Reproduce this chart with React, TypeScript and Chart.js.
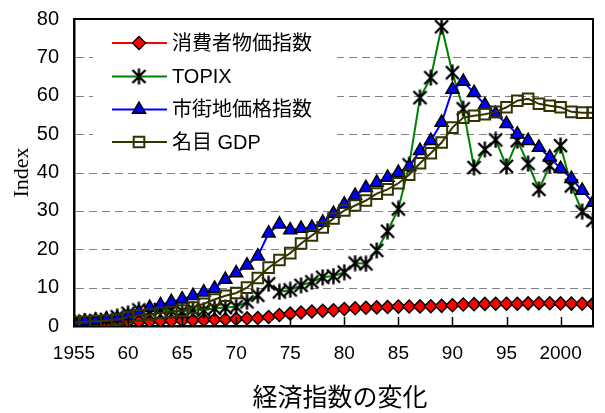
import React, { useEffect, useRef } from 'react';
import { Chart, registerables } from 'chart.js';
import { drawPoint } from 'chart.js/helpers';

Chart.register(...registerables);

const years = [
  1955, 1956, 1957, 1958, 1959, 1960, 1961, 1962, 1963, 1964,
  1965, 1966, 1967, 1968, 1969, 1970, 1971, 1972, 1973, 1974,
  1975, 1976, 1977, 1978, 1979, 1980, 1981, 1982, 1983, 1984,
  1985, 1986, 1987, 1988, 1989, 1990, 1991, 1992, 1993, 1994,
  1995, 1996, 1997, 1998, 1999, 2000, 2001, 2002, 2003,
];
const xTickYears = [1955, 1960, 1965, 1970, 1975, 1980, 1985, 1990, 1995, 2000];
const xTickLabels = ['1955', '60', '65', '70', '75', '80', '85', '90', '95', '2000'];
const yMin = 0;
const yMax = 80;
const yStep = 10;
const yGridValues = [10, 20, 30, 40, 50, 60, 70];

const seriesNames = ['消費者物価指数', 'TOPIX', '市街地価格指数', '名目 GDP'];
const xTitle = '経済指数の変化';
const yTitle = 'Index';

const cpi = [
  1.0, 1.0, 1.03, 1.03, 1.04, 1.08, 1.14, 1.22, 1.31, 1.36,
  1.45, 1.52, 1.58, 1.67, 1.75, 1.88, 1.99, 2.08, 2.33, 2.87,
  3.21, 3.51, 3.79, 3.95, 4.1, 4.42, 4.63, 4.76, 4.85, 4.96,
  5.06, 5.09, 5.1, 5.14, 5.26, 5.42, 5.6, 5.69, 5.76, 5.8,
  5.79, 5.8, 5.9, 5.94, 5.92, 5.88, 5.84, 5.79, 5.77,
];
const topix = [
  1.0, 1.3, 1.4, 1.7, 2.4, 3.3, 4.2, 3.9, 4.3, 4.0,
  3.8, 4.3, 4.1, 4.6, 4.8, 5.0, 6.3, 8.0, 11.0, 8.9,
  9.4, 10.6, 11.5, 12.7, 13.0, 14.0, 16.4, 16.2, 19.7, 24.7,
  30.5, 42.0, 59.5, 64.7, 78.0, 66.0, 56.6, 41.3, 46.0, 48.5,
  41.6, 48.3, 42.3, 35.6, 41.8, 47.0, 36.5, 29.8, 27.5,
];
const land = [
  1.0, 1.2, 1.5, 1.8, 2.1, 2.6, 3.6, 4.8, 5.5, 6.3,
  7.0, 7.9, 8.8, 9.8, 12.1, 13.8, 15.8, 18.2, 24.2, 26.5,
  25.0, 25.4, 25.7, 27.0, 29.3, 31.7, 34.0, 36.0, 37.4, 38.7,
  40.0, 41.5, 45.7, 48.3, 53.0, 61.6, 63.7, 60.8, 57.6, 55.3,
  52.7, 50.0, 48.3, 46.5, 44.0, 41.0, 38.4, 35.3, 32.2,
];
const gdp = [
  1.0, 1.1, 1.3, 1.4, 1.7, 2.3, 2.8, 3.0, 3.4, 3.7,
  4.0, 4.8, 5.8, 6.9, 7.9, 8.6, 10.0, 12.5, 15.2, 17.2,
  19.0, 21.5, 23.6, 25.7, 28.0, 30.1, 31.4, 32.7, 34.5, 35.6,
  37.2, 39.4, 42.4, 45.0, 47.8, 51.7, 54.3, 54.8, 55.2, 55.8,
  57.0, 58.7, 59.2, 57.9, 57.4, 57.0, 55.8, 55.6, 55.6,
];

const FONT = '"Liberation Sans", Arial, "Noto Sans CJK JP", sans-serif';

function makeAsterisk(): HTMLCanvasElement {
  const c = document.createElement('canvas');
  c.width = 17;
  c.height = 17;
  const g = c.getContext('2d')!;
  g.strokeStyle = '#000';
  g.lineWidth = 2.4;
  g.lineCap = 'butt';
  g.beginPath();
  g.moveTo(2, 2);
  g.lineTo(15, 15);
  g.moveTo(15, 2);
  g.lineTo(2, 15);
  g.moveTo(8.5, 0.5);
  g.lineTo(8.5, 16.5);
  g.stroke();
  return c;
}

export default function App() {
  const ref = useRef<HTMLCanvasElement | null>(null);

  useEffect(() => {
    document.body.style.margin = '0';
    const canvas = ref.current;
    if (!canvas) return;
    const asterisk = makeAsterisk();

    const styles = [
      { line: '#FF0000', pointStyle: 'rectRot', radius: 6.5, fill: '#FF0000', border: '#000000', bw: 1.5 },
      { line: '#008000', pointStyle: asterisk, radius: 8, fill: '#000000', border: '#000000', bw: 1 },
      { line: '#0000FF', pointStyle: 'triangle', radius: 7.5, fill: '#0000FF', border: '#000000', bw: 1.5 },
      { line: '#333300', pointStyle: 'rect', radius: 7.5, fill: 'rgba(0,0,0,0)', border: '#333300', bw: 2 },
    ];
    const seriesData = [cpi, topix, land, gdp];
    const orders = [4, 3, 2, 1];

    const datasets = seriesData.map((vals, i) => ({
      label: seriesNames[i],
      data: years.map((y, j) => ({ x: y, y: vals[j] })),
      borderColor: styles[i].line,
      backgroundColor: styles[i].fill,
      borderWidth: 2,
      pointStyle: styles[i].pointStyle as any,
      pointRadius: styles[i].radius,
      pointBackgroundColor: styles[i].fill,
      pointBorderColor: styles[i].border,
      pointBorderWidth: styles[i].bw,
      tension: 0,
      order: orders[i],
    }));

    const framePlugin = {
      id: 'frameAndLegend',
      beforeDatasetsDraw(chart: any) {
        const { ctx, chartArea } = chart;
        const ys = chart.scales.y;
        ctx.save();
        ctx.strokeStyle = '#808080';
        ctx.lineWidth = 1;
        ctx.setLineDash([8, 5]);
        ctx.beginPath();
        yGridValues.forEach((v) => {
          const py = Math.round(ys.getPixelForValue(v)) + 0.5;
          ctx.moveTo(chartArea.left + 2, py);
          ctx.lineTo(chartArea.right, py);
        });
        ctx.stroke();
        ctx.restore();
      },
      afterDraw(chart: any) {
        const { ctx, chartArea } = chart;
        const { left, right, top, bottom } = chartArea;
        const xs = chart.scales.x;
        ctx.save();
        // inner tick marks on x axis
        ctx.strokeStyle = '#000';
        ctx.lineWidth = 1.5;
        ctx.beginPath();
        xTickYears.forEach((v) => {
          const px = Math.round(xs.getPixelForValue(v)) + 0.5;
          ctx.moveTo(px, bottom);
          ctx.lineTo(px, bottom - 9);
        });
        ctx.stroke();
        // top and right frame
        ctx.lineWidth = 2;
        ctx.beginPath();
        ctx.moveTo(left, top);
        ctx.lineTo(right, top);
        ctx.lineTo(right, bottom);
        ctx.stroke();

        // legend
        ctx.fillStyle = '#FFFFFF';
        ctx.fillRect(93, top + 3, 244, 160 - top - 3);
        const rows = [43, 76.5, 109.5, 142];
        rows.forEach((ry, i) => {
          const st = styles[i];
          ctx.strokeStyle = st.line;
          ctx.lineWidth = 2;
          ctx.beginPath();
          ctx.moveTo(112, ry);
          ctx.lineTo(167, ry);
          ctx.stroke();
          ctx.fillStyle = st.fill;
          ctx.strokeStyle = st.border;
          ctx.lineWidth = st.bw;
          drawPoint(ctx, { pointStyle: st.pointStyle as any, radius: st.radius, rotation: 0, borderWidth: st.bw }, 139, ry);
          ctx.fillStyle = '#000';
          ctx.font = '20px ' + FONT;
          ctx.textBaseline = 'middle';
          ctx.textAlign = 'left';
          ctx.fillText(seriesNames[i], 172, ry + 1);
        });

        // x axis title
        ctx.fillStyle = '#000';
        ctx.font = '25px ' + FONT;
        ctx.textAlign = 'center';
        ctx.textBaseline = 'middle';
        ctx.fillText(xTitle, 340, 399);
        ctx.restore();
      },
    };

    const chart = new Chart(canvas, {
      type: 'line',
      data: { datasets },
      options: {
        animation: false,
        responsive: false,
        devicePixelRatio: 1,
        layout: { padding: { top: 19, right: 12, left: 0, bottom: 0 } },
        plugins: {
          legend: { display: false },
          tooltip: { enabled: false },
        },
        scales: {
          x: {
            type: 'linear',
            min: years[0],
            max: years[years.length - 1],
            afterBuildTicks: (s: any) => {
              s.ticks = xTickYears.map((v) => ({ value: v }));
            },
            afterFit: (s: any) => {
              s.height = 87;
              s.paddingLeft = 0;
              s.paddingRight = 0;
            },
            grid: { display: true, drawOnChartArea: false, drawTicks: false },
            border: { display: true, color: '#000', width: 2.5 },
            ticks: {
              autoSkip: false,
              maxRotation: 0,
              padding: 16,
              color: '#000',
              font: { size: 19, family: FONT },
              callback: (v: any) => {
                const idx = xTickYears.indexOf(Number(v));
                return idx >= 0 ? xTickLabels[idx] : '';
              },
            },
          },
          y: {
            min: yMin,
            max: yMax,
            afterFit: (s: any) => {
              s.width = 74;
              s.paddingTop = 0;
              s.paddingBottom = 0;
            },
            grid: { display: true, drawOnChartArea: false, drawTicks: false },
            border: { display: true, color: '#000', width: 2.5 },
            ticks: {
              stepSize: yStep,
              padding: 15,
              color: '#000',
              font: { size: 20, family: FONT },
            },
            title: {
              display: true,
              text: yTitle,
              color: '#000',
              font: { size: 22, family: '"Liberation Serif", "Times New Roman", serif' },
              padding: { top: 9, bottom: 0 },
            },
          },
        },
      },
      plugins: [framePlugin],
    });

    return () => chart.destroy();
  }, []);

  return (
    <div style={{ width: 605, height: 413 }}>
      <canvas ref={ref} width={605} height={413} />
    </div>
  );
}
